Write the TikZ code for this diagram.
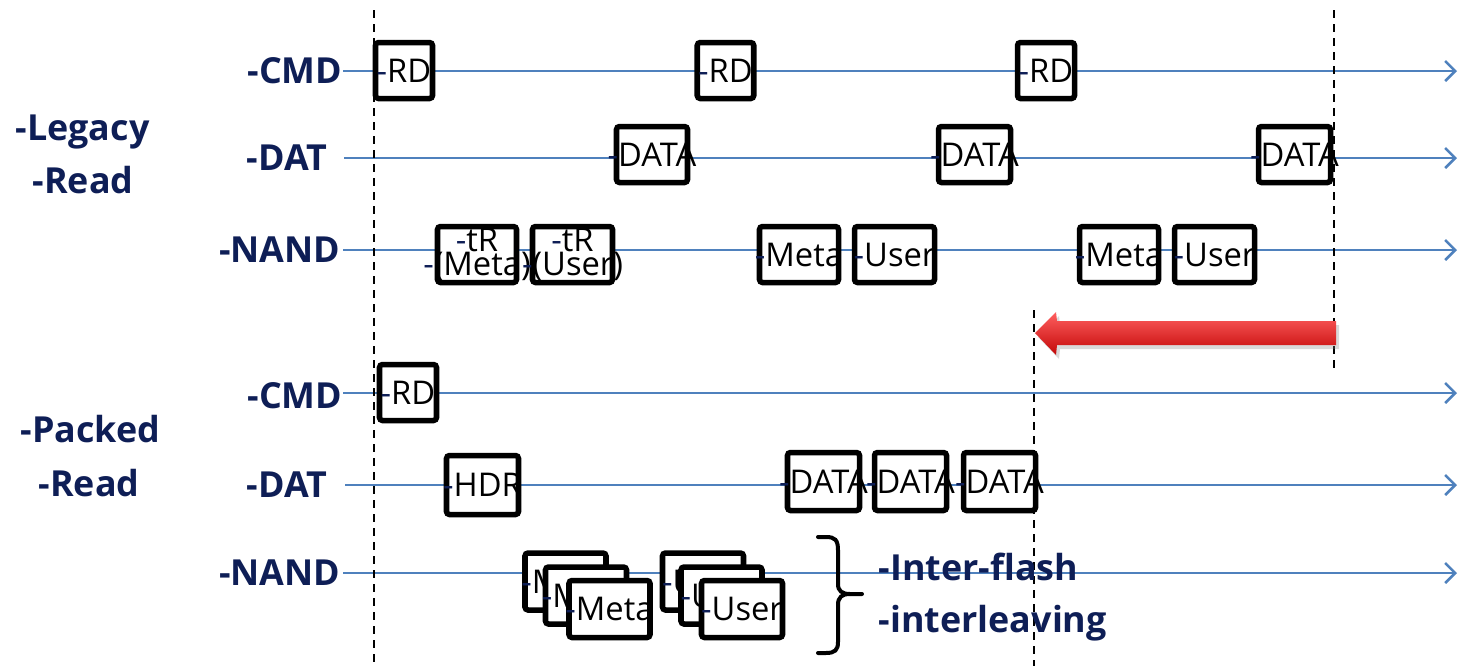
\documentclass[tikz,border=0pt]{standalone}
\usepackage{fontspec}
\setmainfont{Open Sans}
\usetikzlibrary{arrows.meta,shadows}
\definecolor{navy}{RGB}{14,30,86}
\definecolor{tline}{RGB}{79,129,189}
\definecolor{arrtop}{RGB}{255,95,95}
\definecolor{arrmid}{RGB}{242,22,22}
\definecolor{arrbot}{RGB}{195,8,8}
\newcommand{\dsh}{\textcolor{navy}{-}}
\begin{document}
\begin{tikzpicture}[x=0.01cm,y=-0.01cm,
  tl/.style={draw=tline, line width=0.025cm, -{Straight Barb[length=0.1cm,width=0.2cm]}},
  guide/.style={draw=black, line width=0.025cm, dash pattern=on 0.08cm off 0.06cm},
  sig/.style={font=\fontsize{10.2}{12}\selectfont\bfseries, text=navy, inner sep=0pt, anchor=east},
  grp/.style={font=\fontsize{10.2}{12}\selectfont\bfseries, text=navy, inner sep=0pt, anchor=base west},
  slot/.style={draw=black, fill=white, line width=0.055cm, rounded corners=0.03cm, inner sep=0pt},
  sz/.style 2 args={minimum width=#1*0.01cm, minimum height=#2*0.01cm},
  btxt/.style={font=\fontsize{9.3}{6.9}\selectfont, inner sep=0pt, align=center}]
\useasboundingbox (0,0) rectangle (1459,666);

% ---- signal names ----
\node[grp] (lg1) at (15,140) {-Legacy};
\node[grp] (lg2) at (32,193) {-Read};
\node[grp] (pk1) at (20,442) {-Packed};
\node[grp] (pk2) at (38,496) {-Read};

\node[sig] (lcmd)  at (343,71)  {-CMD};
\node[sig] (ldat)  at (328,158) {-DAT};
\node[sig] (lnand) at (341,250) {-NAND};
\node[sig] (pcmd)  at (343,396) {-CMD};
\node[sig] (pdat)  at (328,485) {-DAT};
\node[sig] (pnand) at (341,573) {-NAND};

% ---- time lines ----
\coordinate (lcmdE)  at (1457,71);
\coordinate (ldatS)  at (344,158);  \coordinate (ldatE)  at (1457,158);
\coordinate (lnandS) at (343,250);  \coordinate (lnandE) at (1457,250);
\coordinate (pcmdS)  at (343,393);  \coordinate (pcmdE)  at (1457,393);
\coordinate (pdatS)  at (345,485);  \coordinate (pdatE)  at (1457,485);
\coordinate (pnandS) at (343,573);  \coordinate (pnandE) at (1457,573);
\draw[tl] (lcmd.east) -- (lcmdE);
\draw[tl] (ldatS) -- (ldatE);
\draw[tl] (lnandS) -- (lnandE);
\draw[tl] (pcmdS) -- (pcmdE);
\draw[tl] (pdatS) -- (pdatE);
\draw[tl] (pnandS) -- (pnandE);

% ---- dashed guides ----
\coordinate (g1a) at (374,10);  \coordinate (g1b) at (374,666);
\coordinate (g2a) at (1334,10); \coordinate (g2b) at (1334,368);
\coordinate (g3a) at (1034,310); \coordinate (g3b) at (1034,666);
\draw[guide] (g1a) -- (g1b);
\draw[guide] (g2a) -- (g2b);
\draw[guide] (g3a) -- (g3b);

% ---- legacy read ----
\node[slot, sz={57}{56}, label={[btxt]center:\dsh RD}] (lc1) at (404,70.5) {};
\node[slot, sz={56.5}{56}, label={[btxt]center:\dsh RD}] (lc2) at (725.5,70.5) {};
\node[slot, sz={57}{56}, label={[btxt]center:\dsh RD}] (lc3) at (1046,70.5) {};

\node[slot, sz={71}{56}, label={[btxt]center:\dsh DATA}] (ld1) at (652,154.5) {};
\node[slot, sz={72}{56}, label={[btxt]center:\dsh DATA}] (ld2) at (974.5,154.5) {};
\node[slot, sz={72}{56}, label={[btxt]center:\dsh DATA}] (ld3) at (1294.5,154.5) {};

\node[slot, sz={79}{56}, label={[btxt]center:{\dsh tR\\\dsh(Meta)}}] (ln1) at (477,254.5) {};
\node[slot, sz={80}{56}, label={[btxt]center:{\dsh tR\\\dsh(User)}}] (ln2) at (572.5,254.5) {};
\node[slot, sz={79}{56}, label={[btxt]center:\dsh Meta}] (ln3) at (799,254.5) {};
\node[slot, sz={80}{56}, label={[btxt]center:\dsh User}] (ln4) at (894.5,254.5) {};
\node[slot, sz={79}{56}, label={[btxt]center:\dsh Meta}] (ln5) at (1119,254.5) {};
\node[slot, sz={80}{56}, label={[btxt]center:\dsh User}] (ln6) at (1214.5,254.5) {};

% ---- red arrow ----
\shade[drop shadow={opacity=0.3, shadow xshift=0.03cm, shadow yshift=-0.04cm},
       top color=arrtop, middle color=arrmid, bottom color=arrbot]
  (1035,333) -- (1056,312) -- (1057,321) -- (1336,321) -- (1336,345)
  -- (1057,345) -- (1056,355) -- cycle;

% ---- packed read ----
\node[slot, sz={57}{56}, label={[btxt]center:\dsh RD}] (pc1) at (408,392.5) {};
\node[slot, sz={72}{59}, label={[btxt]center:\dsh HDR}] (ph) at (482.5,485) {};
\node[slot, sz={72}{58}, label={[btxt]center:\dsh DATA}] (pd1) at (823.5,481.5) {};
\node[slot, sz={72}{58}, label={[btxt]center:\dsh DATA}] (pd2) at (910.5,481.5) {};
\node[slot, sz={72}{58}, label={[btxt]center:\dsh DATA}] (pd3) at (999.5,481.5) {};

\node[slot, sz={81}{57}, label={[btxt]center:\dsh Meta}] (pm1) at (565.5,581.5) {};
\node[slot, sz={81}{57}, label={[btxt]center:\dsh Meta}] (pm2) at (586,595.5) {};
\node[slot, sz={81}{57}, label={[btxt]center:\dsh Meta}] (pm3) at (609.5,609) {};
\node[slot, sz={81}{57}, label={[btxt]center:\dsh User}] (pu1) at (703,581.5) {};
\node[slot, sz={81}{57}, label={[btxt]center:\dsh User}] (pu2) at (721.5,595.5) {};
\node[slot, sz={81}{57}, label={[btxt]center:\dsh User}] (pu3) at (742,609) {};

% ---- brace and note ----
\draw[line width=0.04cm, line cap=round]
  (818,537) -- (826,537) .. controls (835,537) and (838,540) .. (838,550)
  -- (838,584) .. controls (838,591) and (842,594) .. (850,594) -- (862,594);
\draw[line width=0.04cm, line cap=round]
  (850,594) .. controls (842,594) and (838,597) .. (838,605)
  -- (838,642) .. controls (838,650) and (835,653) .. (826,653) -- (818,653);
\node[grp] (n1) at (878,580) {-Inter-flash};
\node[grp] (n2) at (878,632) {-interleaving};
\end{tikzpicture}
\end{document}
